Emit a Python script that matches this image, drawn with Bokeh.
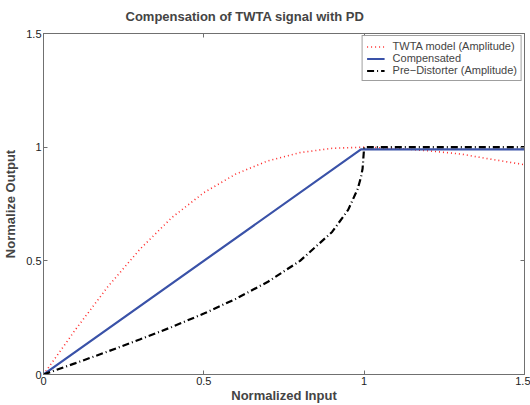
from bokeh.plotting import figure
from bokeh.models import Range1d, FixedTicker, LinearAxis, Legend, LegendItem, CustomLabelingPolicy
from bokeh.embed import file_html
from bokeh.resources import INLINE

# Data
twta_x = [0.0, 0.1, 0.2, 0.3, 0.4, 0.5, 0.6, 0.7, 0.8, 0.9, 1.0, 1.1, 1.2, 1.3, 1.4, 1.5]
twta_y = [0.0, 0.198, 0.385, 0.55, 0.69, 0.80, 0.882, 0.94, 0.976, 0.995, 1.0, 0.995, 0.984, 0.97, 0.946, 0.923]

comp_x = [0.0, 0.99, 1.0, 1.5]
comp_y = [0.0, 0.99, 0.99, 0.99]

pd_x = [0.0, 0.1, 0.2, 0.3, 0.4, 0.5, 0.6, 0.7, 0.8, 0.9, 0.95, 0.98, 0.99, 0.995, 1.0, 1.5]
pd_y = [0.0, 0.05, 0.101, 0.154, 0.209, 0.268, 0.333, 0.408, 0.5, 0.627, 0.724, 0.817, 0.868, 0.905, 1.0, 1.0]

ticks = [0, 0.5, 1, 1.5]
tick_labels = {0: "0", 0.5: "0.5", 1: "1", 1.5: "1.5"}

title_text = "Compensation of TWTA signal with PD"
x_label = "Normalized Input"
y_label = "Normalize Output"
legend_labels = ["TWTA model (Amplitude)", "Compensated", "Pre\u2212Distorter (Amplitude)"]

FONT = "Liberation Sans"
AXIS_GRAY = "#707070"

p = figure(width=530, height=405, output_backend="svg", toolbar_location=None,
           x_range=Range1d(0, 1.5), y_range=Range1d(0, 1.5),
           min_border_left=42, min_border_right=6, min_border_top=30, min_border_bottom=30,
           x_axis_label=x_label, y_axis_label=y_label)

p.title.text = title_text
p.title.align = "left"
p.title.text_font = FONT
p.title.text_font_size = "13px"
p.title.text_font_style = "bold"
p.title.offset = 82
p.title.standoff = 12

p.xgrid.visible = False
p.ygrid.visible = False
p.outline_line_color = AXIS_GRAY
p.background_fill_color = "white"
p.border_fill_color = "white"

for ax in (p.xaxis[0], p.yaxis[0]):
    ax.ticker = FixedTicker(ticks=ticks)
    ax.major_label_overrides = tick_labels
    ax.major_tick_in = 4
    ax.major_tick_out = 0
    ax.minor_tick_in = 0
    ax.minor_tick_out = 0
    ax.axis_line_color = AXIS_GRAY
    ax.major_tick_line_color = AXIS_GRAY
    ax.major_label_text_font = FONT
    ax.major_label_text_font_size = "11px"
    ax.major_label_text_color = "#222222"
    ax.axis_label_text_font = FONT
    ax.axis_label_text_font_size = "13px"
    ax.axis_label_text_font_style = "bold"
    ax.major_label_standoff = 2

p.xaxis[0].axis_label_standoff = 0
p.yaxis[0].axis_label_standoff = 5
p.yaxis[0].major_label_orientation = "horizontal"

no_labels = CustomLabelingPolicy(code="""
for (let i = 0; i < indices.size; i++) { indices.set(i, false) }
return indices
""")

for loc in ("above", "right"):
    a = LinearAxis(ticker=FixedTicker(ticks=ticks), major_tick_in=4, major_tick_out=0,
                   minor_tick_in=0, minor_tick_out=0, axis_line_color=AXIS_GRAY,
                   major_tick_line_color=AXIS_GRAY, major_label_text_font_size="1px",
                   major_label_standoff=0, major_label_policy=no_labels)
    p.add_layout(a, loc)

r1 = p.line(twta_x, twta_y, line_color="#ff2a2a", line_width=1.6, line_dash="1 3")
r2 = p.line(comp_x, comp_y, line_color="#3a52a8", line_width=2.2)
r3 = p.line(pd_x, pd_y, line_color="black", line_width=2.2, line_dash="7 3 1 3")

legend = Legend(items=[LegendItem(label=legend_labels[0], renderers=[r1]),
                       LegendItem(label=legend_labels[1], renderers=[r2]),
                       LegendItem(label=legend_labels[2], renderers=[r3])],
                location="top_right")
legend.label_text_font = FONT
legend.label_text_font_size = "11px"
legend.label_height = 9
legend.glyph_height = 9
legend.glyph_width = 18
legend.spacing = -2
legend.padding = 4
legend.margin = 2
legend.border_line_color = "#404040"
legend.border_line_width = 1
legend.label_standoff = 8
p.add_layout(legend)

open("out.html", "w").write(file_html(p, INLINE))
